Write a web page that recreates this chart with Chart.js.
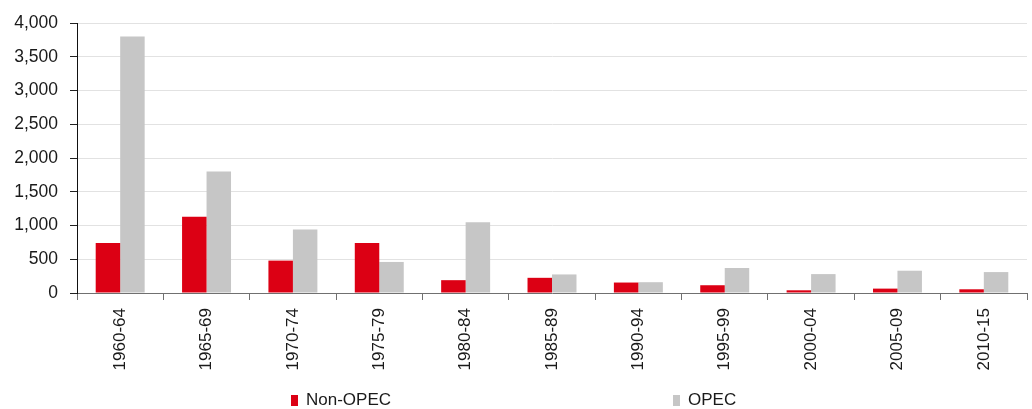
<!DOCTYPE html>
<html>
<head>
<meta charset="utf-8">
<script src="https://cdn.jsdelivr.net/npm/chart.js@4.4.1/dist/chart.umd.min.js"></script>
<style>
  body { margin: 0; background: #fff; font-family: "Liberation Sans", Arial, sans-serif; }
  #wrap { position: relative; width: 1032px; height: 409px; }
  .legend-item { position: absolute; top: 390px; font-size: 17px; color: #1a1a1a; line-height: 20px; }
  .legend-item .box { position: absolute; left: 0; top: 5px; width: 7px; height: 11px; }
  .legend-item .txt { position: absolute; left: 15px; top: 0; white-space: nowrap; }
</style>
</head>
<body>
<div id="wrap">
  <canvas id="chart" width="1032" height="409"></canvas>
  <div class="legend-item" style="left:291px"><span class="box" style="background:#DC0014"></span><span class="txt">Non-OPEC</span></div>
  <div class="legend-item" style="left:673px"><span class="box" style="background:#C6C6C6"></span><span class="txt">OPEC</span></div>
</div>
<script>
// ── Data ──
const periods = ['1960-64', '1965-69', '1970-74', '1975-79', '1980-84', '1985-89',
                 '1990-94', '1995-99', '2000-04', '2005-09', '2010-15'];
const nonOpec = [740, 1130, 480, 740, 190, 225, 155, 115, 40, 65, 55];
const opec    = [3800, 1800, 940, 460, 1050, 275, 160, 370, 280, 330, 310];

const Y_FONT = { family: '"Liberation Sans", Arial, sans-serif', size: 17.5 };
const X_FONT = { family: '"Liberation Sans", Arial, sans-serif', size: 17 };

// ── Chart ──
const ctx = document.getElementById('chart').getContext('2d');
new Chart(ctx, {
    type: 'bar',
    data: {
        labels: periods,
        datasets: [
            { label: 'Non-OPEC', data: nonOpec, backgroundColor: '#DC0014' },
            { label: 'OPEC', data: opec, backgroundColor: '#C6C6C6' }
        ]
    },
    options: {
        responsive: false,
        devicePixelRatio: 1,
        animation: false,
        categoryPercentage: 0.567,
        barPercentage: 1,
        layout: { padding: { top: 23, right: 5, left: 0, bottom: 0 } },
        plugins: { legend: { display: false }, tooltip: { enabled: false } },
        scales: {
            x: {
                grid: { offset: true, drawOnChartArea: false, drawTicks: true, tickLength: 7, color: '#707070' },
                border: { color: '#707070', width: 1 },
                ticks: { font: X_FONT, color: '#1a1a1a', minRotation: 90, maxRotation: 90, padding: 8, autoSkip: false },
                afterFit: s => { s.height = 116; }
            },
            y: {
                min: 0, max: 4000,
                grid: { color: '#e2e2e2', lineWidth: 1, tickLength: 7, tickColor: '#222' },
                border: { color: '#111', width: 1 },
                ticks: {
                    stepSize: 500, font: Y_FONT, color: '#1a1a1a', padding: 12,
                    callback: v => v.toLocaleString('en-US')
                },
                afterFit: s => { s.width = 77; }
            }
        }
    }
});
</script>
</body>
</html>
